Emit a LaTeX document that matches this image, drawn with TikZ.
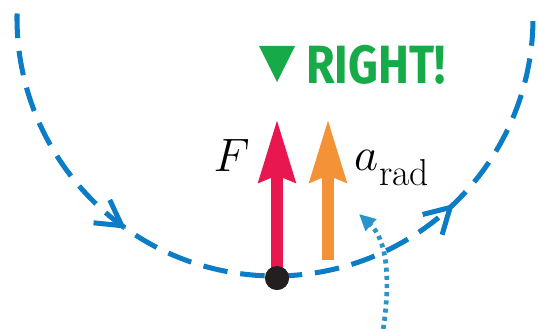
\RequirePackage{fix-cm}
\documentclass[tikz,border=0pt]{standalone}
\usepackage{fontspec}
\usepackage{amsmath}
\usepackage{tikz}
\usetikzlibrary{positioning,arrows.meta,decorations.markings}
\newfontfamily\verdictfont[FakeStretch=0.86]{Fira Sans}
\definecolor{PathBlue}{HTML}{0A7DC6}
\definecolor{PointBlue}{HTML}{2A93CC}
\definecolor{ForceRed}{HTML}{E8174F}
\definecolor{AccOrange}{HTML}{F39237}
\definecolor{RightGreen}{HTML}{16AB48}
\definecolor{BodyBlack}{HTML}{231F20}
\tikzset{
  pathline/.style={draw=PathBlue, line width=4.3pt, dash pattern=on 21pt off 11pt},
  pathtip/.tip={Straight Barb[length=21pt, width=24pt]},
  forcearr/.style={draw=ForceRed, line width=10.8pt, -{Stealth[length=53pt, width=30pt, inset=5pt]}},
  accarr/.style={draw=AccOrange, line width=10.8pt, -{Stealth[length=53pt, width=30pt, inset=5pt]}},
  pointer/.style={draw=PointBlue, line width=4pt, dash pattern=on 3.5pt off 3.5pt, -{Triangle[length=14pt, width=13pt]}},
  body/.style={circle, fill=BodyBlack, minimum size=20.4pt, inner sep=0pt},
  veclabel/.style={font=\fontsize{40}{48}\selectfont, inner sep=0pt},
  verdict/.style={font=\verdictfont\bfseries\fontsize{46}{50}\selectfont, text=RightGreen, inner sep=0pt}
}
\newcommand{\radsub}{\raisebox{-13pt}{\fontsize{32}{36}\selectfont rad}}

\begin{document}
\begin{tikzpicture}[x=0.03cm, y=0.03cm]
\useasboundingbox (0,0) rectangle (539,331);
% circular path of the body
\draw[pathline, postaction={decorate}, decoration={markings,
    mark=at position 0.306 with {\arrow{pathtip}},
    mark=at position 0.741 with {\arrow{pathtip}}}]
  (275,313) ++(179:258) arc[start angle=179, end angle=361, radius=258];
% vectors
\node[body] (body) at (277,53) {};
\coordinate (ftip) at (277,212);
\coordinate (abase) at (328,71);
\coordinate (atip) at (328,212);
\draw[forcearr] (body.center) -- (ftip);
\draw[accarr] (abase) -- (atip);
\node[body] at (body) {};
\node[veclabel, anchor=base east] (flabel) at (250,160) {$F$};
\node[veclabel, anchor=base west] (alabel) at (354,161) {$a$\kern1pt\radsub};
% verdict
\fill[RightGreen] (259,285) -- (295,285) -- (277,249) -- cycle;
\node[verdict, anchor=base west] (verdict) at (306,247) {RIGHT!};
% pointer
\coordinate (ptail) at (382,-6);
\coordinate (phead) at (359,117);
\draw[pointer] (ptail) .. controls (392,55) and (386,92) .. (phead);
\end{tikzpicture}
\end{document}
